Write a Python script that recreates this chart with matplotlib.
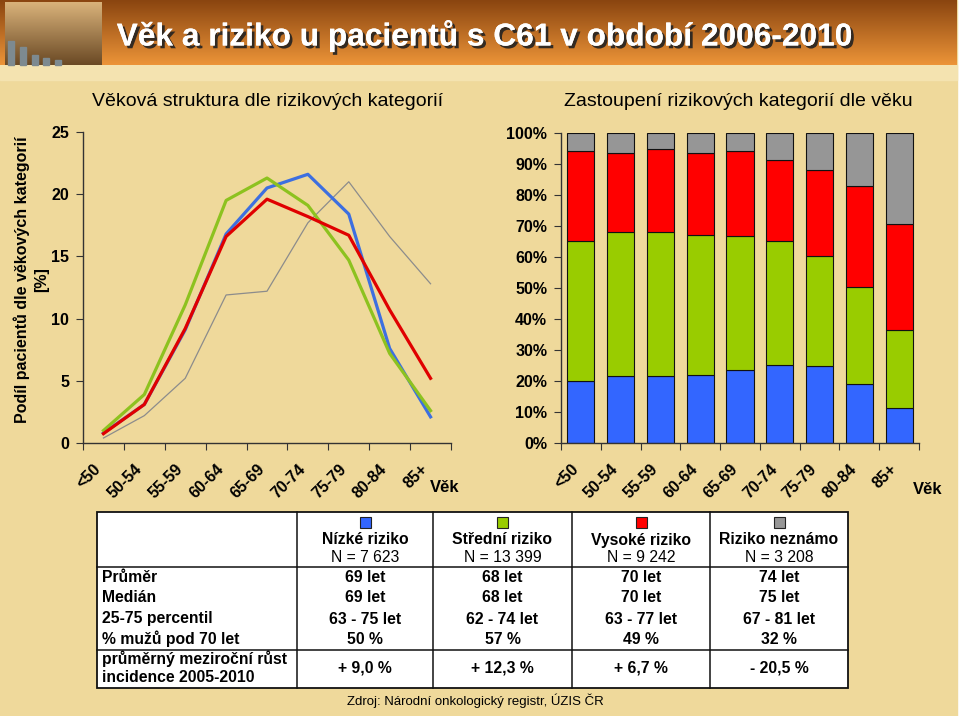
import numpy as np
import matplotlib
matplotlib.use('Agg')
import matplotlib.pyplot as plt
from matplotlib.patches import Rectangle
import matplotlib.patheffects as pe
import matplotlib.transforms as mtransforms

plt.rcParams['font.family'] = ['Liberation Sans', 'DejaVu Sans']

# --- data ---
age_groups = ['<50', '50-54', '55-59', '60-64', '65-69', '70-74', '75-79', '80-84', '85+']

# podil pacientu dle vekovych kategorii [%]
low_pct = [0.8, 3.1, 9.1, 16.8, 20.5, 21.6, 18.4, 7.6, 2.1]
mid_pct = [1.0, 3.9, 11.1, 19.5, 21.3, 19.1, 14.7, 7.2, 2.6]
high_pct = [0.75, 3.1, 9.2, 16.6, 19.6, 18.2, 16.7, 10.7, 5.2]
unk_pct = [0.4, 2.2, 5.2, 11.9, 12.2, 17.7, 21.0, 16.6, 12.8]

# zastoupeni rizikovych kategorii dle veku [%]
share_low = [19.9, 21.5, 21.5, 21.9, 23.5, 25.3, 24.9, 19.0, 11.2]
share_mid = [45.2, 46.6, 46.6, 45.1, 43.2, 39.8, 35.3, 31.2, 25.1]
share_high = [29.0, 25.4, 26.7, 26.7, 27.5, 26.2, 27.9, 32.6, 34.5]
share_unk = [5.9, 6.5, 5.2, 6.3, 5.8, 8.7, 11.9, 17.2, 29.2]

groups = ['Nízké riziko', 'Střední riziko', 'Vysoké riziko', 'Riziko neznámo']
n_counts = ['N = 7 623', 'N = 13 399', 'N = 9 242', 'N = 3 208']
row_labels = ['Průměr', 'Medián', '25-75 percentil', '% mužů pod 70 let']
mean_age = ['69 let', '68 let', '70 let', '74 let']
median_age = ['69 let', '68 let', '70 let', '75 let']
iqr_age = ['63 - 75 let', '62 - 74 let', '63 - 77 let', '67 - 81 let']
men_under70 = ['50 %', '57 %', '49 %', '32 %']
growth = ['+ 9,0 %', '+ 12,3 %', '+ 6,7 %', '- 20,5 %']

line_colors = ['#3D6FE0', '#8DC21F', '#E00000', '#8C8C8C']
bar_colors = ['#3366FF', '#99CC00', '#FF0000', '#969696']

W, H = 960, 716
fig = plt.figure(figsize=(9.6, 7.16), dpi=100, facecolor='white')

# background layer in pixel coordinates
bg = fig.add_axes([0, 0, 1, 1], zorder=0)
bg.axis('off')
bg.add_patch(Rectangle((0, 0), 957, H, color='#EFD99B', zorder=0))
bg.add_patch(Rectangle((0, 65), 957, 15, color='#F4E3B0', zorder=1))

# banner gradient
top = np.array(matplotlib.colors.to_rgb('#8A4510'))
bot = np.array(matplotlib.colors.to_rgb('#EC9438'))
t = np.linspace(0, 1, 64)[:, None, None]
grad = np.repeat(top * (1 - t) + bot * t, 2, axis=1)
bg.imshow(grad, extent=(0, 957, 65, 0), aspect='auto', zorder=2)
# photo placeholder
photo = np.array(matplotlib.colors.to_rgb('#D9B27A')) * (1 - t) + np.array(matplotlib.colors.to_rgb('#6B4A25')) * t
photo = np.repeat(photo, 2, axis=1)
bg.imshow(photo, extent=(5, 102, 65, 2), aspect='auto', zorder=3)
for bx, bh in zip([8, 20, 32, 43, 55], [24, 18, 10, 7, 5]):
    bg.add_patch(Rectangle((bx, 65 - bh), 6, bh, color='#7D8A90', zorder=4))
bg.set_xlim(0, W)
bg.set_ylim(H, 0)

bg.text(484, 36, 'Věk a riziko u pacientů s C61 v období 2006-2010', color='white',
        fontsize=22.8, fontweight='bold', ha='center', va='center', zorder=5,
        path_effects=[pe.withSimplePatchShadow(offset=(2, -2), shadow_rgbFace='#222222', alpha=0.9), pe.Normal()])

bg.text(268, 102, 'Věková struktura dle rizikových kategorií', fontsize=14, ha='center', va='center')
bg.text(738, 102, 'Zastoupení rizikových kategorií dle věku', fontsize=14, ha='center', va='center')
bg.text(22, 280, 'Podíl pacientů dle věkových kategorií', fontsize=11.5, fontweight='bold',
        rotation=90, ha='center', va='center')
bg.text(42, 280, '[%]', fontsize=11.5, fontweight='bold', rotation=90, ha='center', va='center')
bg.text(445, 487, 'Věk', fontsize=12, fontweight='bold', ha='center', va='center')
bg.text(928, 490, 'Věk', fontsize=12, fontweight='bold', ha='center', va='center')


def px_axes(x0, y0, x1, y1):
    return fig.add_axes([x0 / W, 1 - y1 / H, (x1 - x0) / W, (y1 - y0) / H], zorder=2)


def style(ax):
    ax.set_facecolor('none')
    for s in ['top', 'right']:
        ax.spines[s].set_visible(False)
    for s in ['left', 'bottom']:
        ax.spines[s].set_color('#333333')
        ax.spines[s].set_linewidth(1.0)
    n = len(age_groups)
    ax.set_xlim(0, n)
    ax.set_xticks(np.arange(n + 1))
    ax.set_xticklabels([])
    ax.set_xticks(np.arange(n) + 0.5, age_groups, minor=True)
    ax.tick_params(axis='x', which='major', length=5, color='#333333')
    ax.tick_params(axis='x', which='minor', length=0, pad=17, labelsize=11.5)
    shift = mtransforms.ScaledTranslation(-5 / 100, 0, fig.dpi_scale_trans)
    for lab in ax.get_xticklabels(minor=True):
        lab.set_rotation(45)
        lab.set_ha('right')
        lab.set_va('center')
        lab.set_rotation_mode('anchor')
        lab.set_fontweight('bold')
        lab.set_transform(lab.get_transform() + shift)
    ax.tick_params(axis='y', length=5, color='#333333', labelsize=11.5, pad=5)
    for lab in ax.get_yticklabels():
        lab.set_fontweight('bold')


# left: line chart
ax1 = px_axes(83, 132, 451, 443)
x = np.arange(len(age_groups)) + 0.5
ax1.plot(x, unk_pct, color=line_colors[3], lw=0.9)
ax1.plot(x, low_pct, color=line_colors[0], lw=2.3)
ax1.plot(x, mid_pct, color=line_colors[1], lw=2.3)
ax1.plot(x, high_pct, color=line_colors[2], lw=2.3)
ax1.set_ylim(0, 25)
ax1.set_yticks(np.arange(0, 26, 5))
style(ax1)

# right: stacked bars
ax2 = px_axes(561, 133, 919, 443)
bottom = np.zeros(len(age_groups))
for vals, c in zip([share_low, share_mid, share_high, share_unk], bar_colors):
    ax2.bar(x, vals, bottom=bottom, width=0.68, color=c, edgecolor='#111111', linewidth=0.8)
    bottom += np.array(vals)
ax2.set_ylim(0, 100)
ax2.set_yticks(np.arange(0, 101, 10))
ax2.set_yticklabels([f'{v}%' for v in range(0, 101, 10)])
style(ax2)

# table
tx0, tx1, ty0, ty1 = 97, 848, 512, 688
col_edges = [297, 433, 572, 710, 848]
bg.add_patch(Rectangle((tx0, ty0), tx1 - tx0, ty1 - ty0, facecolor='white', edgecolor='#111111', lw=1.3, zorder=3))
for cx in col_edges[:-1]:
    bg.plot([cx, cx], [ty0, ty1], color='#111111', lw=1.1, zorder=4)
for hy in [567, 650]:
    bg.plot([tx0, tx1], [hy, hy], color='#111111', lw=1.1, zorder=4)
centers = [(col_edges[i] + col_edges[i + 1]) / 2 for i in range(4)]
fs = 11.3
for i, cx in enumerate(centers):
    bg.add_patch(Rectangle((cx - 5.5, 517), 11, 11, facecolor=bar_colors[i], edgecolor='#222222', lw=0.8, zorder=5))
    bg.text(cx, 540, groups[i], fontsize=fs, fontweight='bold', ha='center', va='center', zorder=5)
    bg.text(cx, 558, n_counts[i], fontsize=fs, ha='center', va='center', zorder=5)
    for row_y, vals in zip([578, 598, 619, 639], [mean_age, median_age, iqr_age, men_under70]):
        bg.text(cx, row_y, vals[i], fontsize=fs, fontweight='bold', ha='center', va='center', zorder=5)
    bg.text(cx, 668, growth[i], fontsize=fs, fontweight='bold', ha='center', va='center', zorder=5)
for row_y, lab in zip([578, 598, 619, 639], row_labels):
    bg.text(102, row_y, lab, fontsize=fs, fontweight='bold', ha='left', va='center', zorder=5)
bg.text(102, 659, 'průměrný meziroční růst', fontsize=fs, fontweight='bold', ha='left', va='center', zorder=5)
bg.text(102, 678, 'incidence 2005-2010', fontsize=fs, fontweight='bold', ha='left', va='center', zorder=5)

bg.text(347, 701, 'Zdroj: Národní onkologický registr, ÚZIS ČR', fontsize=9.5, ha='left', va='center', zorder=5)

fig.savefig('out.png', dpi=100, facecolor='white')
